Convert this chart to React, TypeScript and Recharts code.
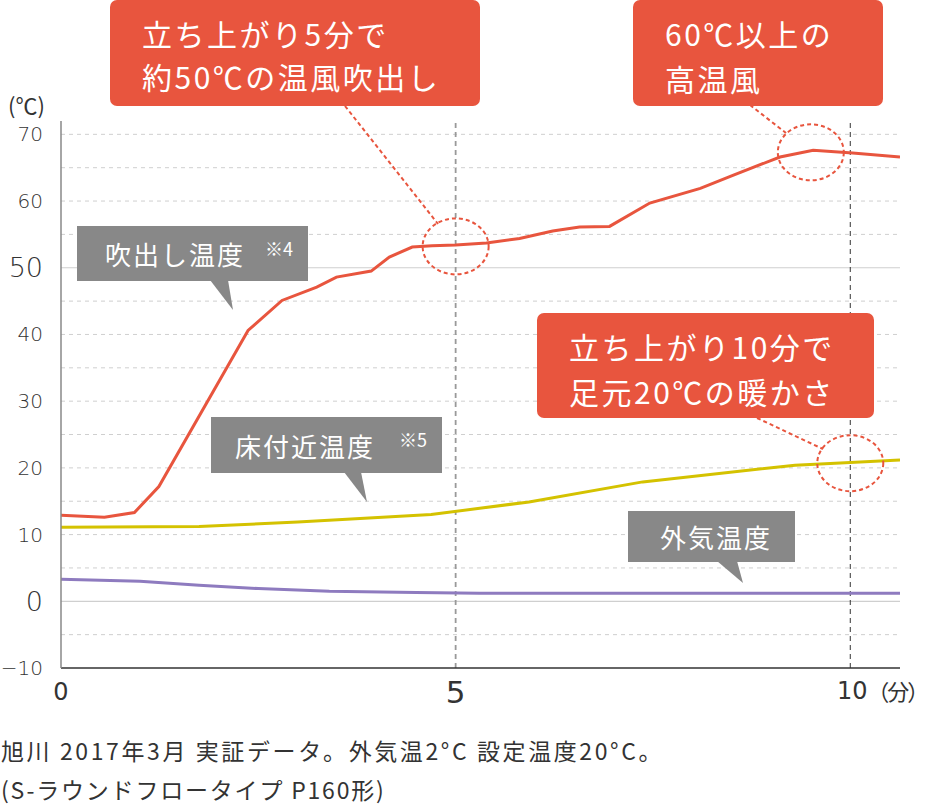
import { LineChart, Line, XAxis, YAxis, ReferenceLine, ReferenceDot } from "recharts";

// 吹出し温度 (blow-out temperature)
const blowTime = [0, 0.55, 0.93, 1.24, 2.37, 2.8, 3.24, 3.49, 3.93, 4.16, 4.45, 4.7, 5.0, 5.39, 5.81, 6.23, 6.57, 6.95, 7.46, 8.1, 8.52, 9.11, 9.53, 10.03, 10.63];
const blowTemp = [12.9, 12.6, 13.3, 17.2, 40.6, 45.1, 47.1, 48.6, 49.5, 51.6, 53.1, 53.3, 53.4, 53.7, 54.4, 55.5, 56.1, 56.2, 59.7, 61.9, 63.9, 66.6, 67.6, 67.2, 66.6];

// 床付近温度 (floor temperature)
const floorTime = [0, 1.75, 3.0, 4.69, 5.93, 7.37, 9.3, 10.0, 10.63];
const floorTemp = [11.1, 11.2, 11.9, 13.0, 14.9, 17.9, 20.4, 20.8, 21.2];

// 外気温度 (outside temperature)
const outTime = [0, 1.0, 1.75, 2.5, 3.4, 4.5, 5.3, 10.63];
const outTemp = [3.3, 3.0, 2.4, 1.9, 1.5, 1.3, 1.2, 1.2];

const yTicks = [-10, 0, 10, 20, 30, 40, 50, 60, 70];
const xTicks = [0, 5, 10];
const gridDashed = [-5, 5, 10, 15, 20, 25, 30, 35, 40, 45, 55, 60, 65, 70];
const gridSolid = [0, 50];

// highlighted spots [minute, temp]
const spots = [
  [5.0, 53.2],
  [9.5, 67.3],
  [10.0, 20.7],
];

const blowData = blowTime.map((t, i) => ({ t, v: blowTemp[i] }));
const floorData = floorTime.map((t, i) => ({ t, v: floorTemp[i] }));
const outData = outTime.map((t, i) => ({ t, v: outTemp[i] }));

const FONT = "'Noto Sans CJK JP', 'Noto Sans', sans-serif";
const NUM = "'DejaVu Sans', sans-serif";
const RED = "#e8553e";
const GRAY = "#888888";

function YTick({ x, y, payload }: any) {
  const v = payload.value;
  const big = v === 0 || v === 50;
  const label = v < 0 ? `−${Math.abs(v)}` : String(v);
  return (
    <text x={x} y={y} textAnchor="end" dominantBaseline="central" fontSize={big ? 27 : 20} fill="#333" fontFamily={NUM} fontWeight={300}>
      {label}
    </text>
  );
}

function XTick({ x, y, payload }: any) {
  const v = payload.value;
  if (v === 10) {
    return (
      <g fill="#333">
        <text x={x + 2} y={y + 23} textAnchor="middle" dominantBaseline="central" fontSize={24} fontFamily={NUM}>
          10
        </text>
        <text x={x + 17} y={y + 22} textAnchor="start" dominantBaseline="central" fontSize={22} letterSpacing={-2} fontFamily={FONT}>
          （分）
        </text>
      </g>
    );
  }
  return (
    <text x={x} y={y + 24} textAnchor="middle" dominantBaseline="central" fontSize={v === 5 ? 31 : 24} fill="#333" fontFamily={NUM}>
      {v}
    </text>
  );
}

const ring = (props: any) => (
  <ellipse cx={props.cx} cy={props.cy} rx={33} ry={28} fill="none" stroke={RED} strokeWidth={2} strokeDasharray="4 3" />
);

function RedBox({ x, y, w, h, lines, cy }: { x: number; y: number; w: number; h: number; lines: string[]; cy: number[] }) {
  return (
    <g>
      <rect x={x} y={y} width={w} height={h} rx={7} fill={RED} />
      {lines.map((s, i) => (
        <text key={i} x={x + 32} y={cy[i]} dominantBaseline="central" fontSize={30} fill="#fff" letterSpacing={2.5} fontFamily={FONT}>
          {s}
        </text>
      ))}
    </g>
  );
}

function GrayBox({ x, y, w, h, tail, label, tx0, note }: { x: number; y: number; w: number; h: number; tail: number[]; label: string; tx0: number; note?: string }) {
  const [a, b, tx, ty] = tail;
  return (
    <g fontFamily={FONT}>
      <rect x={x} y={y} width={w} height={h} fill={GRAY} />
      <path d={`M${a},${y + h - 1} L${b},${y + h - 1} L${tx},${ty} Z`} fill={GRAY} />
      <text x={x + tx0} y={y + h / 2} dominantBaseline="central" fontSize={26} fill="#fff" letterSpacing={2}>
        {label}
      </text>
      {note && (
        <text x={x + 188} y={y + h / 2 - 6} dominantBaseline="central" fontSize={18} fill="#fff">
          {note}
        </text>
      )}
    </g>
  );
}

export default function App() {
  return (
    <div style={{ position: "absolute", left: 0, top: 0, width: 927, height: 805, background: "#fff", fontFamily: FONT }}>
      <LineChart width={927} height={805} margin={{ top: 121, right: 27, left: 0, bottom: 85 }}>
        <XAxis
          dataKey="t"
          type="number"
          domain={[0, 10.63]}
          ticks={xTicks}
          allowDataOverflow
          height={52}
          tickSize={0}
          tickMargin={0}
          tick={<XTick />}
          axisLine={{ stroke: "#333", strokeWidth: 1.5 }}
          tickLine={false}
        />
        <YAxis
          type="number"
          domain={[-10, 72]}
          ticks={yTicks}
          allowDataOverflow
          width={61}
          tickSize={0}
          tickMargin={18}
          tick={<YTick />}
          axisLine={{ stroke: "#888", strokeWidth: 1.5 }}
          tickLine={false}
        />
        {gridDashed.map((g) => (
          <ReferenceLine key={`d${g}`} y={g} stroke="#cfcfcf" strokeDasharray="4 4" strokeWidth={1} />
        ))}
        {gridSolid.map((g) => (
          <ReferenceLine key={`s${g}`} y={g} stroke="#cfcfcf" strokeWidth={1.2} />
        ))}
        <ReferenceLine x={5} stroke="#999" strokeWidth={1.8} strokeDasharray="5 4" />
        <ReferenceLine x={10} stroke="#333" strokeWidth={1} strokeDasharray="5 4" />
        <Line data={outData} dataKey="v" type="linear" stroke="#8e7bbf" strokeWidth={3} dot={false} isAnimationActive={false} />
        <Line data={floorData} dataKey="v" type="linear" stroke="#d4c200" strokeWidth={3} dot={false} isAnimationActive={false} />
        <Line data={blowData} dataKey="v" type="linear" stroke={RED} strokeWidth={3} dot={false} isAnimationActive={false} />
        {spots.map(([t, v], i) => (
          <ReferenceDot key={i} x={t} y={v} r={30} shape={ring} ifOverflow="visible" />
        ))}
      </LineChart>

      <svg width={927} height={805} style={{ position: "absolute", left: 0, top: 0, pointerEvents: "none" }}>
        <g stroke={RED} strokeWidth={2} strokeDasharray="4 3">
          <line x1={345} y1={106} x2={438} y2={224} />
          <line x1={750} y1={105} x2={786} y2={133} />
          <line x1={757} y1={418} x2={823} y2={449} />
        </g>
        <RedBox x={110} y={0} w={370} h={106} lines={["立ち上がり5分で", "約50℃の温風吹出し"]} cy={[33, 76]} />
        <RedBox x={633} y={0} w={250} h={106} lines={["60℃以上の", "高温風"]} cy={[33, 78]} />
        <RedBox x={537} y={313} w={337} h={105} lines={["立ち上がり10分で", "足元20℃の暖かさ"]} cy={[346, 391]} />
        <GrayBox x={77} y={226} w={231} h={55} tail={[210, 228, 233, 310]} label="吹出し温度" tx0={28} note="※4" />
        <GrayBox x={211} y={417} w={231} h={56} tail={[344, 361, 367, 502]} label="床付近温度" tx0={24} note="※5" />
        <GrayBox x={628} y={511} w={167} h={51} tail={[717, 737, 743, 583]} label="外気温度" tx0={32} />
        <text x={8} y={104} dominantBaseline="central" fontSize={22} fill="#333" fontFamily={FONT}>
          (℃)
        </text>
        <g fontFamily={FONT} fill="#333" fontSize={23}>
          <text x={1} y={750} dominantBaseline="central" letterSpacing={2.6}>旭川 2017年3月 実証データ。外気温2°C 設定温度20°C。</text>
          <text x={1} y={789} dominantBaseline="central" letterSpacing={1.8}>(S-ラウンドフロータイプ P160形)</text>
        </g>
      </svg>
    </div>
  );
}
